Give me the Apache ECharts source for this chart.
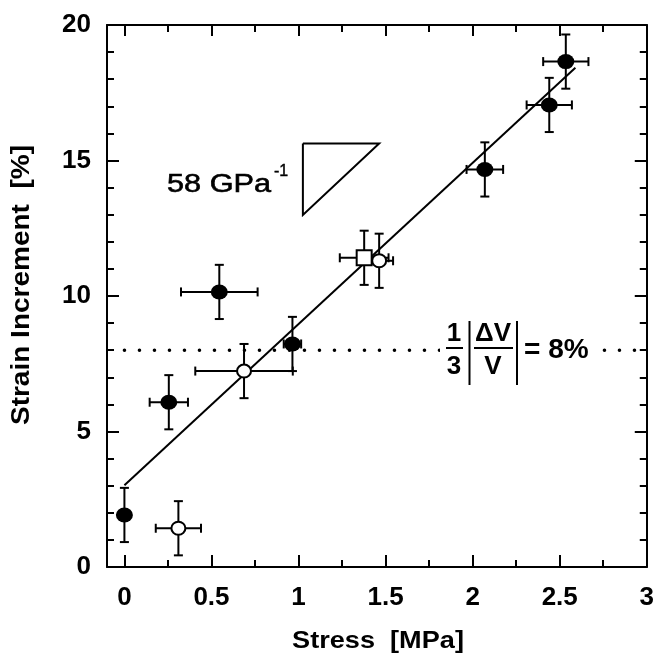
<!DOCTYPE html>
<html>
<head>
<meta charset="utf-8">
<script src="https://cdn.jsdelivr.net/npm/echarts@6/dist/echarts.min.js"></script>
<style>
html,body{margin:0;padding:0;background:#fff;}
#chart{width:657px;height:658px;}
</style>
</head>
<body>
<div id="chart"></div>
<script>
// ---- data ----
const filledX    = [0, 0.255, 0.545, 0.965, 2.07, 2.44, 2.535];
const filledY    = [1.92, 6.08, 10.15, 8.23, 14.67, 17.05, 18.65];
const filledXErr = [0, 0.11, 0.22, 0.05, 0.105, 0.13, 0.13];
const filledYErr = [1.0, 1.0, 1.0, 1.0, 1.0, 1.0, 1.0];

const openX    = [0.31, 0.687, 1.463];
const openY    = [1.43, 7.23, 11.3];
const openXErr = [0.13, 0.28, 0.08];
const openYErr = [1.0, 1.0, 1.0];

const squareX    = [1.377];
const squareY    = [11.41];
const squareXErr = [0.14];
const squareYErr = [1.0];

const fitX = [0, 2.59];
const fitY = [3.02, 18.42];

const refLevel = 8;          // 1/3|dV/V| = 8%
const refXRange = [0, 3];

const slopeTriangleX = [1.025, 1.463, 1.025, 1.025];
const slopeTriangleY = [15.63, 15.63, 12.99, 15.63];

const xMajorTicks = [0, 0.5, 1, 1.5, 2, 2.5, 3];
const xMinorTicks = [0.25, 0.75, 1.25, 1.75, 2.25, 2.75];
const X_MIN = -0.1, X_MAX = 3, Y_MIN = 0, Y_MAX = 20, Y_STEP = 5;

const xTitle = 'Stress  [MPa]';
const yTitle = 'Strain Increment  [%]';
const slopeLabel = '58 GPa';
const slopeSup = '-1';

// ---- helpers ----
const zip = (a, b) => a.map((v, i) => [v, b[i]]);
const zip4 = (a, b, c, d) => a.map((v, i) => [v, b[i], c[i], d[i]]);
const FONT = '"Liberation Sans", Arial, Helvetica, sans-serif';
const BLACK = '#000';

function errRender(params, api) {
  const x = api.value(0), y = api.value(1), xe = api.value(2), ye = api.value(3);
  const style = {stroke: BLACK, lineWidth: 2, fill: null};
  const cap = 4.5;
  const ch = [];
  if (ye > 0) {
    const t = api.coord([x, y + ye]), b = api.coord([x, y - ye]);
    ch.push({type: 'line', shape: {x1: t[0], y1: t[1], x2: b[0], y2: b[1]}, style});
    ch.push({type: 'line', shape: {x1: t[0] - cap, y1: t[1], x2: t[0] + cap, y2: t[1]}, style});
    ch.push({type: 'line', shape: {x1: b[0] - cap, y1: b[1], x2: b[0] + cap, y2: b[1]}, style});
  }
  if (xe > 0) {
    const l = api.coord([x - xe, y]), r = api.coord([x + xe, y]);
    ch.push({type: 'line', shape: {x1: l[0], y1: l[1], x2: r[0], y2: r[1]}, style});
    ch.push({type: 'line', shape: {x1: l[0], y1: l[1] - cap, x2: l[0], y2: l[1] + cap}, style});
    ch.push({type: 'line', shape: {x1: r[0], y1: r[1] - cap, x2: r[0], y2: r[1] + cap}, style});
  }
  return {type: 'group', children: ch};
}

function errSeries(data) {
  return {
    type: 'custom', renderItem: errRender, data: data, z: 2,
    encode: {x: 0, y: 1}, silent: true, clip: false
  };
}

const tickStyle = {color: BLACK, width: 2};
function xAxisDef(position, ticks, len, showLine, showLabels) {
  return {
    type: 'value', position: position, min: X_MIN, max: X_MAX,
    axisLine: {show: showLine, onZero: false, lineStyle: {color: BLACK, width: 2}},
    axisTick: {show: true, inside: true, length: len, customValues: ticks, lineStyle: tickStyle},
    axisLabel: showLabels ? {
      show: true, customValues: ticks, margin: 18, fontSize: 26, fontWeight: 'bold',
      color: BLACK, fontFamily: FONT, formatter: v => String(v)
    } : {show: false},
    splitLine: {show: false}
  };
}
function yAxisDef(position, showLabels) {
  return {
    type: 'value', position: position, min: Y_MIN, max: Y_MAX, interval: Y_STEP,
    axisLine: {show: true, onZero: false, lineStyle: {color: BLACK, width: 2}},
    axisTick: {show: true, inside: true, length: 12, lineStyle: tickStyle},
    minorTick: {show: true, splitNumber: 5, length: 7, lineStyle: tickStyle},
    axisLabel: showLabels ? {
      show: true, margin: 16, fontSize: 26, fontWeight: 'bold', color: BLACK, fontFamily: FONT
    } : {show: false},
    splitLine: {show: false}, minorSplitLine: {show: false}
  };
}

const chart = echarts.init(document.getElementById('chart'), null, {renderer: 'canvas'});
const option = {
  backgroundColor: '#fff',
  animation: false,
  grid: {left: 107, top: 25, right: 6, bottom: 91, containLabel: false},
  xAxis: [
    xAxisDef('bottom', xMajorTicks, 12, true, true),
    xAxisDef('bottom', xMinorTicks, 7, false, false),
    xAxisDef('top', xMajorTicks, 11, true, false),
    xAxisDef('top', xMinorTicks, 7, false, false)
  ],
  yAxis: [yAxisDef('left', true), yAxisDef('right', false)],
  series: [
    {
      type: 'line', data: zip(refXRange, [refLevel, refLevel]), symbol: 'none', z: 1,
      lineStyle: {color: BLACK, width: 3.5, type: [0.1, 14.9], cap: 'round'}, silent: true
    },
    {
      type: 'line', data: zip(fitX, fitY), symbol: 'none', z: 1,
      lineStyle: {color: BLACK, width: 2}, silent: true
    },
    {
      type: 'line', data: zip(slopeTriangleX, slopeTriangleY), symbol: 'none', z: 1,
      lineStyle: {color: BLACK, width: 2, join: 'miter'}, silent: true
    },
    errSeries(zip4(filledX, filledY, filledXErr, filledYErr)),
    errSeries(zip4(openX, openY, openXErr, openYErr)),
    errSeries(zip4(squareX, squareY, squareXErr, squareYErr)),
    {
      type: 'scatter', data: zip(filledX, filledY), symbol: 'circle', symbolSize: [17, 15], z: 3,
      itemStyle: {color: BLACK, opacity: 1}
    },
    {
      type: 'scatter', data: zip(squareX, squareY), symbol: 'rect', symbolSize: 15, z: 3,
      itemStyle: {color: '#fff', borderColor: BLACK, borderWidth: 2, opacity: 1}
    },
    {
      type: 'scatter', data: zip(openX, openY), symbol: 'circle', symbolSize: [14, 13], z: 4,
      itemStyle: {color: '#fff', borderColor: BLACK, borderWidth: 2, opacity: 1}
    }
  ],
  graphic: [
    {type: 'text', x: 378, y: 641, scaleX: 1.13, z: 10,
     style: {text: xTitle, font: 'bold 24px ' + FONT, fill: BLACK, textAlign: 'center', textVerticalAlign: 'middle'}},
    {type: 'text', x: 22, y: 285, rotation: Math.PI / 2, scaleX: 1.12, z: 10,
     style: {text: yTitle, font: 'bold 25px ' + FONT, fill: BLACK, textAlign: 'center', textVerticalAlign: 'middle'}},
    {type: 'text', x: 167, y: 185, scaleX: 1.18, z: 10,
     style: {text: slopeLabel, font: '26px ' + FONT, fill: BLACK, textAlign: 'left', textVerticalAlign: 'middle',
             stroke: BLACK, lineWidth: 0.6}},
    {type: 'text', x: 274, y: 172, z: 10,
     style: {text: slopeSup, font: '16px ' + FONT, fill: BLACK, textAlign: 'left', textVerticalAlign: 'middle',
             stroke: BLACK, lineWidth: 0.4}},
    // formula 1/3 |dV/V| = 8%
    {type: 'rect', shape: {x: 440, y: 318, width: 160, height: 70}, style: {fill: '#fff'}, z: 9},
    {type: 'text', x: 454, y: 334, z: 10,
     style: {text: '1', font: 'bold 26px ' + FONT, fill: BLACK, textAlign: 'center', textVerticalAlign: 'middle'}},
    {type: 'line', shape: {x1: 446, y1: 348, x2: 463, y2: 348}, style: {stroke: BLACK, lineWidth: 2}, z: 10},
    {type: 'text', x: 454, y: 367, z: 10,
     style: {text: '3', font: 'bold 26px ' + FONT, fill: BLACK, textAlign: 'center', textVerticalAlign: 'middle'}},
    {type: 'line', shape: {x1: 469.5, y1: 321, x2: 469.5, y2: 385}, style: {stroke: BLACK, lineWidth: 2}, z: 10},
    {type: 'text', x: 493, y: 334, z: 10,
     style: {text: 'ΔV', font: 'bold 26px ' + FONT, fill: BLACK, textAlign: 'center', textVerticalAlign: 'middle'}},
    {type: 'line', shape: {x1: 474, y1: 348, x2: 513, y2: 348}, style: {stroke: BLACK, lineWidth: 2}, z: 10},
    {type: 'text', x: 493, y: 367, z: 10,
     style: {text: 'V', font: 'bold 26px ' + FONT, fill: BLACK, textAlign: 'center', textVerticalAlign: 'middle'}},
    {type: 'line', shape: {x1: 517, y1: 321, x2: 517, y2: 385}, style: {stroke: BLACK, lineWidth: 2}, z: 10},
    {type: 'text', x: 524, y: 350, z: 10,
     style: {text: '= 8%', font: 'bold 28px ' + FONT, fill: BLACK, textAlign: 'left', textVerticalAlign: 'middle'}}
  ]
};
chart.setOption(option);
</script>
</body>
</html>
